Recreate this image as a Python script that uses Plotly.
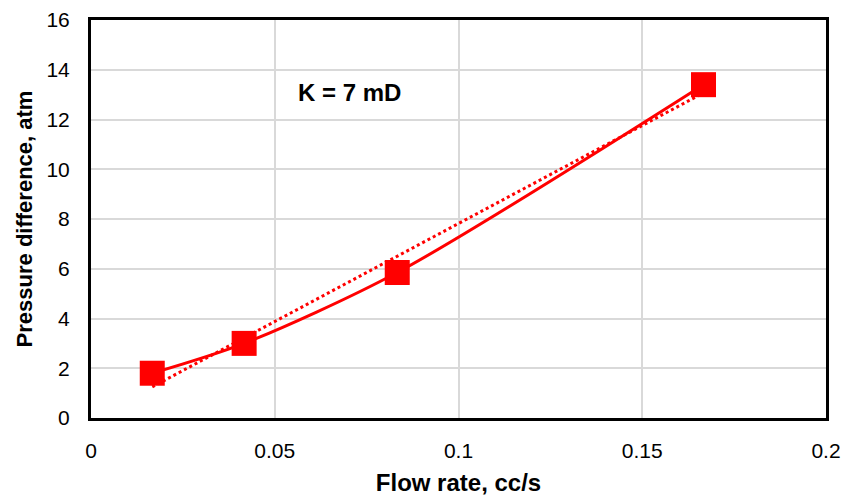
import numpy as np
import plotly.graph_objects as go

flow_rate = [0.01667, 0.04167, 0.08333, 0.16667]
pressure = [1.8, 3.0, 5.85, 13.4]
x_ticks = [0, 0.05, 0.1, 0.15, 0.2]
x_tick_labels = ["0", "0.05", "0.1", "0.15", "0.2"]
y_ticks = [0, 2, 4, 6, 8, 10, 12, 14, 16]

# linear trendline (least squares fit of the data)
slope, intercept = np.polyfit(flow_rate, pressure, 1)
trend_x = [min(flow_rate), max(flow_rate)]
trend_y = [slope * v + intercept for v in trend_x]

red = "#FF0000"
fig = go.Figure()
fig.add_trace(go.Scatter(x=trend_x, y=trend_y, mode="lines",
                         line=dict(color=red, width=3, dash="dot"),
                         showlegend=False, hoverinfo="skip"))
fig.add_trace(go.Scatter(x=flow_rate, y=pressure, mode="lines+markers",
                         line=dict(color=red, width=3, shape="spline", smoothing=0.8),
                         marker=dict(symbol="square", size=25, color=red),
                         showlegend=False))

font = "Liberation Sans, Arial, sans-serif"
fig.update_layout(
    width=845, height=496,
    margin=dict(l=91, r=19, t=20, b=78),
    paper_bgcolor="white", plot_bgcolor="white",
    font=dict(family=font, size=21, color="black"),
    xaxis=dict(range=[0, 0.2], tickvals=x_ticks, ticktext=x_tick_labels,
               showgrid=True, gridcolor="#D9D9D9", gridwidth=1.5,
               showline=True, linecolor="black", linewidth=3, mirror=True,
               zeroline=False, ticks="", ticklen=0, ticklabelstandoff=12,
               tickfont=dict(size=21), automargin=False,
               title=dict(text="<b>Flow rate, cc/s</b>", font=dict(size=24), standoff=16)),
    yaxis=dict(range=[0, 16], tickvals=y_ticks,
               showgrid=True, gridcolor="#D9D9D9", gridwidth=1.5,
               showline=True, linecolor="black", linewidth=3, mirror=True,
               zeroline=False, ticks="", ticklen=0, ticklabelstandoff=14,
               tickfont=dict(size=21), automargin=False,
               title=dict(text="<b>Pressure difference, atm</b>", font=dict(size=22), standoff=8)),
    annotations=[dict(x=0.0703, y=13.1, xref="x", yref="y", text="<b>K = 7 mD</b>",
                      showarrow=False, font=dict(size=24, family=font))],
)
fig.write_html("out.html")
